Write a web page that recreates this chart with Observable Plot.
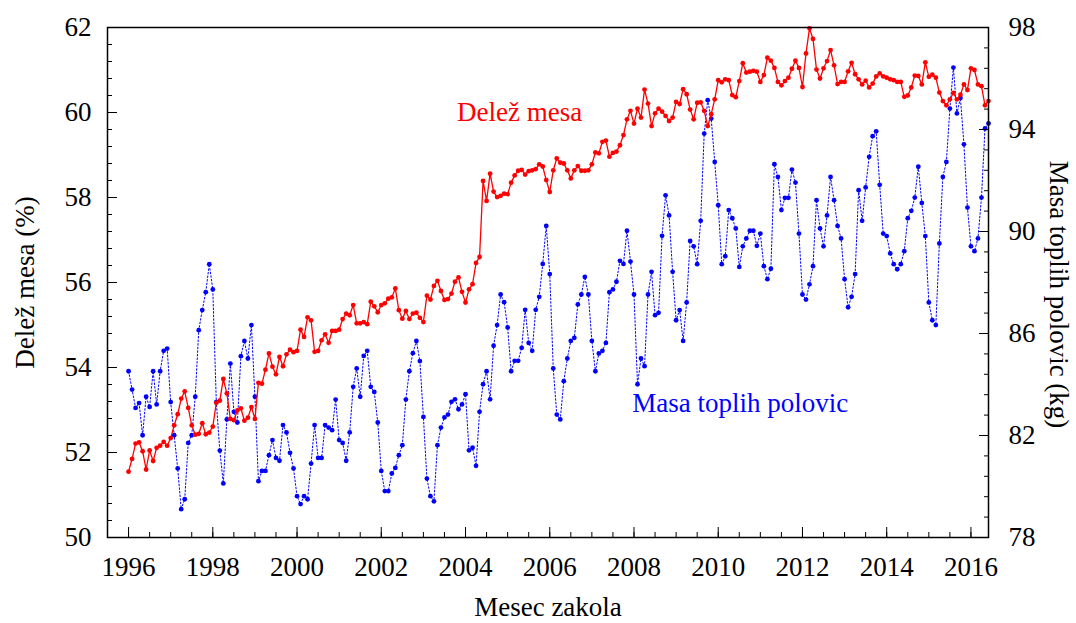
<!DOCTYPE html>
<html><head><meta charset="utf-8">
<script src="https://cdn.jsdelivr.net/npm/d3@7"></script>
<script src="https://cdn.jsdelivr.net/npm/@observablehq/plot@0.6"></script>
<style>body{margin:0;background:#fff;} svg text{font-family:'Liberation Serif','Times New Roman',serif;}</style>
</head><body><div id="chart"></div>
<script>
// Monthly series, January 1996 onward
const startYear = 1996;
const delezMesa = [
51.55,51.85,52.21,52.24,52.03,51.60,52.05,51.80,52.11,52.16,52.25,52.16,
52.34,52.64,52.90,53.27,53.44,53.05,52.64,52.42,52.44,52.69,52.43,52.47,
52.61,53.17,53.22,53.73,53.39,52.79,52.76,52.99,53.04,52.75,52.82,53.07,
52.79,53.64,53.62,53.95,54.33,54.02,53.84,54.25,54.03,54.31,54.42,54.36,
54.39,54.89,54.72,55.18,55.11,54.37,54.39,54.64,54.78,54.58,54.86,54.86,
54.89,55.14,55.27,55.23,55.47,55.04,55.04,55.07,55.02,55.55,55.44,55.30,
55.47,55.51,55.62,55.65,55.86,55.35,55.15,55.33,55.14,55.27,55.29,55.17,
55.07,55.69,55.60,55.92,56.04,55.80,55.59,55.61,55.74,56.02,56.12,55.78,
55.53,55.84,55.96,56.46,56.60,58.39,57.92,58.56,58.14,58.01,58.04,58.09,
58.08,58.35,58.52,58.63,58.65,58.54,58.62,58.64,58.67,58.78,58.73,58.41,
58.13,58.64,58.92,58.82,58.80,58.64,58.45,58.64,58.74,58.63,58.63,58.64,
58.78,59.06,59.04,59.31,59.34,58.96,59.05,59.08,59.23,59.47,59.84,60.04,
59.74,60.09,59.88,60.54,60.21,59.68,59.98,60.09,60.02,59.92,59.80,59.88,
60.25,60.20,60.55,60.43,60.07,59.84,60.23,60.24,60.04,59.68,59.96,60.31,
60.76,60.71,60.78,60.76,60.41,60.36,60.74,61.16,60.94,60.96,60.98,60.96,
60.72,60.88,61.29,61.22,61.05,60.72,60.64,60.74,60.82,61.03,61.22,61.05,
60.60,61.39,61.98,61.73,61.01,60.80,61.04,61.21,61.47,61.11,60.67,60.72,
60.72,60.97,61.17,60.90,60.78,60.66,60.75,60.59,60.68,60.85,60.92,60.85,
60.82,60.78,60.76,60.72,60.72,60.37,60.40,60.59,60.87,60.86,60.66,61.18,
60.84,60.89,60.82,60.47,60.27,60.17,60.31,60.46,60.31,60.42,60.66,60.53,
61.04,61.00,60.66,60.62,60.17,60.27
];
const masaPolovic = [
84.52,83.80,83.08,83.27,82.01,83.52,83.12,84.52,83.22,84.52,85.32,85.41,
83.31,82.01,80.71,79.11,79.50,81.71,82.01,83.52,86.13,86.92,87.62,88.72,
87.73,83.31,81.41,80.12,82.63,84.82,82.93,82.51,85.11,85.71,85.02,86.33,
83.52,80.21,80.61,80.61,81.23,81.82,81.12,81.01,82.41,82.12,81.32,80.71,
79.62,79.31,79.62,79.50,80.90,82.41,81.12,81.12,82.41,82.31,82.21,83.41,
81.82,81.71,81.01,82.12,83.91,84.63,83.52,85.12,85.32,83.91,83.71,82.51,
80.61,79.82,79.82,80.51,80.73,81.23,81.62,83.41,84.52,85.23,85.71,84.92,
82.73,80.31,79.62,79.42,81.62,82.31,82.71,82.82,83.32,83.42,83.03,83.22,
83.62,81.42,81.52,80.81,82.93,84.01,84.52,83.42,85.52,86.33,87.53,87.23,
86.24,84.52,84.93,84.93,85.44,86.93,85.63,85.32,86.93,87.44,88.73,90.22,
88.33,84.63,82.82,82.63,84.13,85.02,85.71,85.83,87.14,87.53,88.22,87.53,
85.71,84.52,85.22,85.32,85.63,87.62,87.73,88.03,88.85,88.73,90.03,88.82,
87.53,84.01,85.02,84.72,87.53,88.42,86.72,86.81,89.83,91.42,90.63,88.42,
86.52,86.92,85.71,87.22,89.63,89.42,88.72,90.42,93.84,95.15,94.43,92.73,
91.03,88.72,89.03,90.84,90.52,90.12,88.61,89.42,89.73,90.03,90.03,89.44,
89.92,88.64,88.13,88.54,92.64,92.14,90.84,91.32,91.32,92.43,91.92,89.92,
87.53,87.33,87.93,88.64,91.23,90.12,89.42,90.63,92.14,91.23,90.22,89.73,
88.13,87.03,87.44,88.33,91.62,90.42,91.73,92.93,93.74,93.93,91.83,89.92,
89.82,89.14,88.72,88.52,88.72,89.23,90.52,90.81,91.33,92.54,91.12,89.82,
87.22,86.52,86.33,89.53,92.14,92.73,94.82,96.43,94.63,95.24,93.42,90.94,
89.42,89.23,89.73,91.33,94.04,94.24
];
const xTicks = [1996,1998,2000,2002,2004,2006,2008,2010,2012,2014,2016];
const yTicksLeft = [50,52,54,56,58,60,62];
const yTicksRight = [78,82,86,90,94,98];
const seriesLabels = ["Delež mesa", "Masa toplih polovic"];
const axisLabels = ["Mesec zakola", "Delež mesa (%)", "Masa toplih polovic (kg)"];

// right-axis (kg) values expressed in left-axis units so both share one y scale
const leftLo = 50, leftHi = 62, rightLo = 78, rightHi = 98;
const kgToLeft = kg => leftLo + (kg - rightLo) * (leftHi - leftLo) / (rightHi - rightLo);
const leftToKg = v => rightLo + (v - leftLo) * (rightHi - rightLo) / (leftHi - leftLo);

const rows = delezMesa.map((v, i) => ({
  t: startYear + i / 12,
  delez: v,
  masa: kgToLeft(masaPolovic[i])
}));
const xEnd = rows[rows.length - 1].t;

const leftMinor = d3.range(leftLo, leftHi + 1e-9, 0.4);
const rightMinor = d3.range(rightLo, rightHi + 1e-9, 0.8).map(kgToLeft);
const xMinor = d3.range(1996, xEnd, 0.5);

const RED = "#ff0000", BLUE = "#0000ff";
const FONT = "'Liberation Serif', 'Times New Roman', serif";
const FS = 27;

const chart = Plot.plot({
  width: 1076,
  height: 623,
  marginLeft: 107,
  marginRight: 88,
  marginTop: 27,
  marginBottom: 86,
  style: {fontFamily: FONT, fontSize: FS + "px", background: "#fff", color: "#000"},
  x: {domain: [1995.5, xEnd], axis: null},
  y: {domain: [leftLo, leftHi], axis: null},
  marks: [
    // blue series
    Plot.line(rows, {x: "t", y: "masa", stroke: BLUE, strokeWidth: 1, strokeDasharray: "1.6,2"}),
    Plot.dot(rows, {x: "t", y: "masa", r: 2.4, fill: BLUE}),
    // red series
    Plot.line(rows, {x: "t", y: "delez", stroke: RED, strokeWidth: 1.3}),
    Plot.dot(rows, {x: "t", y: "delez", r: 2.4, fill: RED}),
    // left axis
    Plot.axisY(yTicksLeft, {anchor: "left", tickSize: 0, tickPadding: 16, label: null, fontFamily: FONT, fontSize: FS, tickFormat: d => String(d)}),
    Plot.axisY(yTicksLeft, {anchor: "left", tickSize: 10, dx: 10, fill: "none", label: null}),
    Plot.axisY(leftMinor, {anchor: "left", tickSize: 5, dx: 5, fill: "none", label: null}),
    // right axis
    Plot.axisY(yTicksRight.map(kgToLeft), {anchor: "right", tickSize: 0, tickPadding: 20, label: null, fontFamily: FONT, fontSize: FS, tickFormat: v => String(Math.round(leftToKg(v)))}),
    Plot.axisY(yTicksRight.map(kgToLeft), {anchor: "right", tickSize: 10, dx: -10, fill: "none", label: null}),
    Plot.axisY(rightMinor, {anchor: "right", tickSize: 5, dx: -5, fill: "none", label: null}),
    // bottom axis
    Plot.axisX(xTicks, {anchor: "bottom", tickSize: 0, tickPadding: 19, label: null, fontFamily: FONT, fontSize: FS, tickFormat: d => String(d)}),
    Plot.axisX(xTicks, {anchor: "bottom", tickSize: 10, dy: -10, fill: "none", label: null}),
    Plot.axisX(xMinor, {anchor: "bottom", tickSize: 5, dy: -5, fill: "none", label: null}),
    Plot.frame({stroke: "#000", strokeWidth: 1.5}),
    // series labels
    Plot.text([seriesLabels[0]], {x: [2003.8], y: [60.0], text: d => d, fill: RED, textAnchor: "start", fontFamily: FONT, fontSize: FS}),
    Plot.text([seriesLabels[1]], {x: [2007.96], y: [53.15], text: d => d, fill: BLUE, textAnchor: "start", fontFamily: FONT, fontSize: FS}),
    // axis titles
    Plot.text([axisLabels[0]], {frameAnchor: "bottom", text: d => d, textAnchor: "middle", lineAnchor: "middle", dy: 70, fontFamily: FONT, fontSize: FS}),
    Plot.text([axisLabels[1]], {frameAnchor: "left", text: d => d, textAnchor: "middle", lineAnchor: "middle", rotate: -90, dx: -82, fontFamily: FONT, fontSize: FS}),
    Plot.text([axisLabels[2]], {frameAnchor: "right", text: d => d, textAnchor: "middle", lineAnchor: "middle", rotate: 90, dx: 70, dy: 12, fontFamily: FONT, fontSize: FS})
  ]
});
document.getElementById("chart").appendChild(chart);
</script>
</body></html>
